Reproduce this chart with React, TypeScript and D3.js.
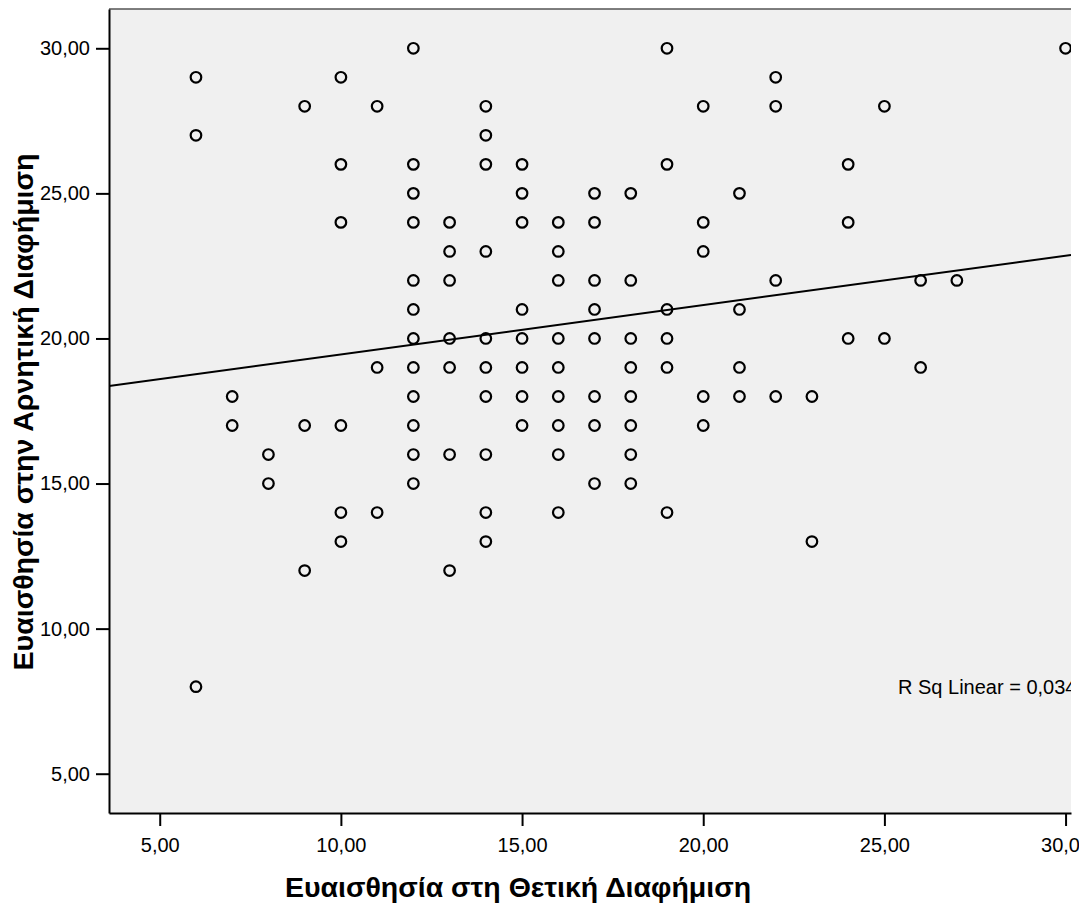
import { useEffect, useRef } from "react"
import * as d3 from "d3"

// x: Ευαισθησία στη Θετική Διαφήμιση, one entry per column of points
const positiveScores = [6, 7, 8, 9, 10, 11, 12, 13, 14, 15, 16, 17, 18, 19, 20, 21, 22, 23, 24, 25, 26, 27, 30]
// y: Ευαισθησία στην Αρνητική Διαφήμιση, values seen in each column
const negativeScores = [
  [29, 27, 8],
  [18, 17],
  [16, 15],
  [28, 17, 12],
  [29, 26, 24, 17, 14, 13],
  [28, 19, 14],
  [30, 26, 25, 24, 22, 21, 20, 19, 18, 17, 16, 15],
  [24, 23, 22, 20, 19, 16, 12],
  [28, 27, 26, 23, 20, 19, 18, 16, 14, 13],
  [26, 25, 24, 21, 20, 19, 18, 17],
  [24, 23, 22, 20, 19, 18, 17, 16, 14],
  [25, 24, 22, 21, 20, 18, 17, 15],
  [25, 22, 20, 19, 18, 17, 16, 15],
  [30, 26, 21, 20, 19, 14],
  [28, 24, 23, 18, 17],
  [25, 21, 19, 18],
  [29, 28, 22, 18],
  [18, 13],
  [26, 24, 20],
  [28, 20],
  [22, 19],
  [22],
  [30],
]
const tickValues = [5, 10, 15, 20, 25, 30]
// fit line y = intercept + slope * x
const fitIntercept = 17.75
const fitSlope = 0.17
const rSquareLabel = "R Sq Linear = 0,034"
const xTitle = "Ευαισθησία στη Θετική Διαφήμιση"
const yTitle = "Ευαισθησία στην Αρνητική Διαφήμιση"

const font = "'Liberation Sans', Arial, sans-serif"

const App = () => {
  const svgRef = useRef(null)

  useEffect(() => {
    const width = 1079
    const height = 907
    const left = 109, right = 1071, top = 9, bottom = 813

    const svg = d3.select(svgRef.current)
    svg.selectAll("*").remove()

    const x = d3.scaleLinear().domain([3.6, 30.15]).range([left, right])
    const y = d3.scaleLinear().domain([3.646, 31.354]).range([bottom, top])
    const fmt = (d) => d3.format(".2f")(d).replace(".", ",")

    svg.append("rect").attr("width", width).attr("height", height).attr("fill", "#ffffff")
    svg.append("rect")
      .attr("x", left).attr("y", top)
      .attr("width", right - left).attr("height", bottom - top)
      .attr("fill", "#f0f0f0")

    svg.append("clipPath").attr("id", "plot-clip")
      .append("rect")
      .attr("x", left).attr("y", top)
      .attr("width", right - left).attr("height", bottom - top)

    const plot = svg.append("g").attr("clip-path", "url(#plot-clip)")

    const points = positiveScores.flatMap((px, i) => negativeScores[i].map(py => [px, py]))

    const fitLine = d3.line()
      .x(d => x(d))
      .y(d => y(fitIntercept + fitSlope * d))
    plot.append("path")
      .datum(x.domain())
      .attr("d", fitLine)
      .attr("fill", "none")
      .attr("stroke", "#000")
      .attr("stroke-width", 2)

    plot.selectAll(".pt")
      .data(points)
      .join("circle")
      .attr("class", "pt")
      .attr("cx", d => x(d[0]))
      .attr("cy", d => y(d[1]))
      .attr("r", 5.3)
      .attr("fill", "none")
      .attr("stroke", "#000")
      .attr("stroke-width", 2.2)

    plot.append("text")
      .attr("x", 898)
      .attr("y", y(8))
      .attr("dy", "0.35em")
      .attr("font-family", font)
      .attr("font-size", 20)
      .attr("fill", "#000")
      .text(rSquareLabel)

    // top frame line
    svg.append("line")
      .attr("x1", left).attr("x2", right)
      .attr("y1", top).attr("y2", top)
      .attr("stroke", "#555").attr("stroke-width", 1.5)

    const xAxis = d3.axisBottom(x).tickValues(tickValues).tickFormat(fmt)
      .tickSizeInner(13).tickSizeOuter(0).tickPadding(12)
    const yAxis = d3.axisLeft(y).tickValues(tickValues).tickFormat(fmt)
      .tickSizeInner(13).tickSizeOuter(0).tickPadding(6)

    const gx = svg.append("g").attr("transform", `translate(0,${bottom})`).call(xAxis)
    const gy = svg.append("g").attr("transform", `translate(${left},0)`).call(yAxis)
    for (const g of [gx, gy]) {
      g.selectAll("path, line").attr("stroke", "#000").attr("stroke-width", 2)
      g.selectAll("text").attr("font-family", font).attr("font-size", 20).attr("fill", "#000")
    }

    svg.append("text")
      .attr("x", 518)
      .attr("y", 897)
      .attr("text-anchor", "middle")
      .attr("font-family", font)
      .attr("font-weight", "bold")
      .attr("font-size", 28.5)
      .text(xTitle)

    svg.append("text")
      .attr("transform", `translate(33,${412}) rotate(-90)`)
      .attr("text-anchor", "middle")
      .attr("font-family", font)
      .attr("font-weight", "bold")
      .attr("font-size", 28.5)
      .text(yTitle)
  }, [])

  return (
    <svg ref={svgRef} width={1079} height={907}
      style={{ position: "absolute", left: 0, top: 0, display: "block" }} />
  )
}

export default App
